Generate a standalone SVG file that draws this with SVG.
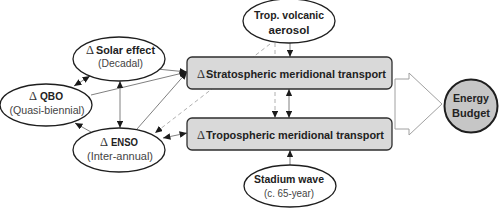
<svg xmlns="http://www.w3.org/2000/svg" width="500" height="208" viewBox="0 0 500 208">
<style>
.ell{fill:#fff;stroke:#1e1e1e;stroke-width:1.3}
.box{fill:#d9d9d9;stroke:#2e2e2e;stroke-width:1.3}
.c{fill:none;stroke:#808080;stroke-width:1}
.d{fill:none;stroke:#b0b0b0;stroke-width:1;stroke-dasharray:4 3}
.b{font-family:"Liberation Sans",Arial,sans-serif;font-weight:bold;font-size:11.5px;fill:#222;text-anchor:middle}
.bs{font-family:"Liberation Sans",Arial,sans-serif;font-weight:bold;font-size:11.5px;fill:#222;text-anchor:start}
.r{font-family:"Liberation Sans",Arial,sans-serif;font-size:11px;fill:#444;text-anchor:middle}
.dl{font-family:"Liberation Serif",serif;font-size:12.5px;fill:#333;text-anchor:start}
</style>
<defs>
<marker id="ah" viewBox="0 0 8 7" refX="8" refY="3.5" markerWidth="7.5" markerHeight="6.5" orient="auto-start-reverse" markerUnits="userSpaceOnUse">
<path d="M0,0 L8,3.5 L0,7 z" fill="#1a1a1a"/>
</marker>
</defs>
<g id="connectors">
<line class="d" x1="270" y1="44" x2="155" y2="133" marker-end="url(#ah)"/>
<line class="d" x1="275" y1="43" x2="275" y2="118" marker-end="url(#ah)"/>
<line class="c" x1="74" y1="86" x2="90" y2="76" marker-start="url(#ah)" marker-end="url(#ah)"/>
<line class="c" x1="91" y1="95" x2="187" y2="72" marker-end="url(#ah)"/>
<line class="c" x1="157" y1="69" x2="187" y2="72" marker-end="url(#ah)"/>
<line class="c" x1="137" y1="129" x2="187" y2="72" marker-end="url(#ah)"/>
<line class="c" x1="120" y1="81" x2="120" y2="128" marker-start="url(#ah)" marker-end="url(#ah)"/>
<line class="c" x1="91" y1="132" x2="75" y2="123" marker-end="url(#ah)"/>
<line class="c" x1="163" y1="138" x2="187" y2="133" marker-start="url(#ah)" marker-end="url(#ah)"/>
<line class="c" x1="290" y1="43" x2="290" y2="57" marker-end="url(#ah)"/>
<line class="c" x1="289" y1="89" x2="289" y2="118" marker-start="url(#ah)" marker-end="url(#ah)"/>
<line class="c" x1="290" y1="165" x2="290" y2="150" marker-end="url(#ah)"/>
<polygon points="395,79 409,79 409,73 442,104 409,135 409,129 395,129" fill="#fff" stroke="#a0a0a0" stroke-width="1"/>
</g>
<g id="solar">
<ellipse class="ell" cx="119" cy="59" rx="46" ry="22"/>
<text class="dl" x="86" y="54">Δ</text>
<text class="bs" x="96" y="54" textLength="59" lengthAdjust="spacingAndGlyphs">Solar effect</text>
<text class="r" x="120.5" y="67" textLength="45" lengthAdjust="spacingAndGlyphs">(Decadal)</text>
</g>
<g id="qbo">
<ellipse class="ell" cx="46" cy="105" rx="46" ry="21"/>
<text class="dl" x="29" y="100">Δ</text>
<text class="bs" x="40" y="100" textLength="23" lengthAdjust="spacingAndGlyphs">QBO</text>
<text class="r" x="47" y="114" textLength="75" lengthAdjust="spacingAndGlyphs">(Quasi-biennial)</text>
</g>
<g id="enso">
<ellipse class="ell" cx="119" cy="150" rx="46" ry="22"/>
<text class="dl" x="100" y="146">Δ</text>
<text class="bs" x="111" y="146" textLength="27" lengthAdjust="spacingAndGlyphs">ENSO</text>
<text class="r" x="120" y="160" textLength="66" lengthAdjust="spacingAndGlyphs">(Inter-annual)</text>
</g>
<g id="volcanic">
<ellipse class="ell" cx="289" cy="21" rx="46" ry="22"/>
<text class="b" x="289" y="19" textLength="70" lengthAdjust="spacingAndGlyphs">Trop. volcanic</text>
<text class="b" x="289" y="34" textLength="41" lengthAdjust="spacingAndGlyphs">aerosol</text>
</g>
<g id="strat">
<rect class="box" x="187" y="57" width="205" height="32" rx="5"/>
<text class="dl" x="197" y="78">Δ</text>
<text class="bs" x="206" y="78" textLength="180" lengthAdjust="spacingAndGlyphs">Stratospheric meridional transport</text>
</g>
<g id="trop">
<rect class="box" x="187" y="118" width="205" height="32" rx="5"/>
<text class="dl" x="197" y="139">Δ</text>
<text class="bs" x="206" y="139" textLength="178" lengthAdjust="spacingAndGlyphs">Tropospheric meridional transport</text>
</g>
<g id="stadium">
<ellipse class="ell" cx="290" cy="186" rx="46" ry="21"/>
<text class="b" x="289" y="183" textLength="70" lengthAdjust="spacingAndGlyphs">Stadium wave</text>
<text class="r" x="289" y="197" textLength="50" lengthAdjust="spacingAndGlyphs">(c. 65-year)</text>
</g>
<g id="energy">
<circle cx="471" cy="106" r="26.5" fill="#c6c6c6" stroke="#1e1e1e" stroke-width="2"/>
<text class="b" x="471" y="102" textLength="36" lengthAdjust="spacingAndGlyphs">Energy</text>
<text class="b" x="471" y="117" textLength="38" lengthAdjust="spacingAndGlyphs">Budget</text>
</g>
</svg>
